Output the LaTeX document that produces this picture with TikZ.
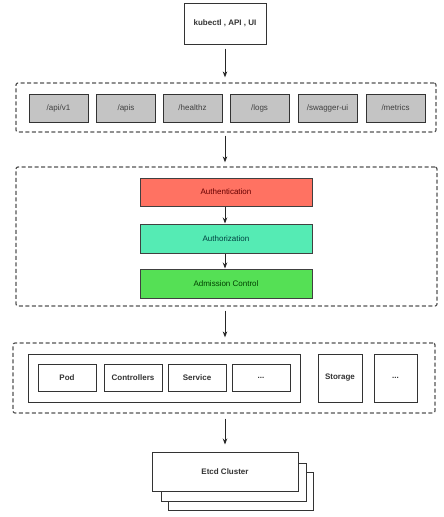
\documentclass[tikz,border=0pt]{standalone}
\usepackage{fontspec}
\setmainfont{Liberation Sans}
\usetikzlibrary{arrows.meta}
\definecolor{dashgray}{HTML}{555555}
\definecolor{boxgray}{HTML}{C4C4C4}
\definecolor{authred}{HTML}{FF7262}
\definecolor{authzgreen}{HTML}{55EBB4}
\definecolor{admgreen}{HTML}{55E055}
\tikzset{
  box/.style={draw=black!80, line width=1pt, inner sep=0pt, font=\fontsize{8}{9}\selectfont\bfseries, text=black!80},
  graybox/.style={box, fill=boxgray, minimum width=59pt, minimum height=28pt, font=\fontsize{8}{9}\selectfont, text=black!75},
  group/.style={draw=dashgray, line width=1.2pt, dash pattern=on 4pt off 2.5pt, rounded corners=2pt, inner sep=0pt},
  stage/.style={draw=black!75, line width=1pt, inner sep=0pt, minimum width=172pt, font=\fontsize{8}{9}\selectfont},
  res/.style={box, minimum width=58pt, minimum height=27pt},
  arr/.style={-{Stealth[length=6pt,width=4.5pt]}, line width=1pt, black!85},
}
\begin{document}
\begin{tikzpicture}[x=1pt,y=-1pt]
\useasboundingbox[fill=white] (0,0) rectangle (444,517);
% client
\node[box, minimum width=82pt, minimum height=41pt] (client) at (225,23.5) {kubectl , API , UI};
% api paths
\node[group, minimum width=420pt, minimum height=49pt] (paths) at (226,107.5) {};
\node[graybox] (p1) at (58.5,108) {/api/v1};
\node[graybox] (p2) at (126,108) {/apis};
\node[graybox] (p3) at (192.5,108) {/healthz};
\node[graybox] (p4) at (259.5,108) {/logs};
\node[graybox] (p5) at (327.5,108) {/swagger-ui};
\node[graybox] (p6) at (395.5,108) {/metrics};
% auth chain
\node[group, minimum width=421pt, minimum height=139pt] (chain) at (226.5,236.5) {};
\node[stage, fill=authred, minimum height=28pt, text=red!40!black] (authn) at (226,192) {Authentication};
\node[stage, fill=authzgreen, minimum height=29pt, text=teal!50!black] (authz) at (226,238.5) {Authorization};
\node[stage, fill=admgreen, minimum height=29pt, text=green!25!black] (adm) at (226,283.5) {Admission Control};
% resources
\node[group, minimum width=422pt, minimum height=70pt] (resgrp) at (224,378) {};
\node[box, minimum width=272pt, minimum height=48pt] (objs) at (164,378) {};
\node[res] (pod) at (67,377.5) {Pod};
\node[res] (ctrl) at (133,377.5) {Controllers};
\node[res] (svc) at (197,377.5) {Service};
\node[res] (more1) at (261,377.5) {...};
\node[box, minimum width=44pt, minimum height=48pt] (stor) at (340,378) {Storage};
\node[box, minimum width=43pt, minimum height=48pt] (more2) at (395.5,378) {...};
% etcd stack
\node[box, fill=white, minimum width=145pt, minimum height=38pt] (etcd3) at (240.5,491) {};
\node[box, fill=white, minimum width=145pt, minimum height=38pt] (etcd2) at (233.5,482) {};
\node[box, fill=white, minimum width=146pt, minimum height=39pt] (etcd) at (225,471.5) {Etcd Cluster};
% arrows
\draw[arr, shorten <=4pt, shorten >=5pt] (client.south) -- (client.south |- paths.north);
\draw[arr, shorten <=3pt, shorten >=4pt] (client.south |- paths.south) -- (client.south |- chain.north);
\draw[arr] (authn.south -| client.south) -- (authz.north -| client.south);
\draw[arr] (authz.south -| client.south) -- (adm.north -| client.south);
\draw[arr, shorten <=4pt, shorten >=5pt] (client.south |- chain.south) -- (client.south |- resgrp.north);
\draw[arr, shorten <=5pt, shorten >=7pt] (client.south |- resgrp.south) -- (client.south |- etcd.north);
\end{tikzpicture}
\end{document}
